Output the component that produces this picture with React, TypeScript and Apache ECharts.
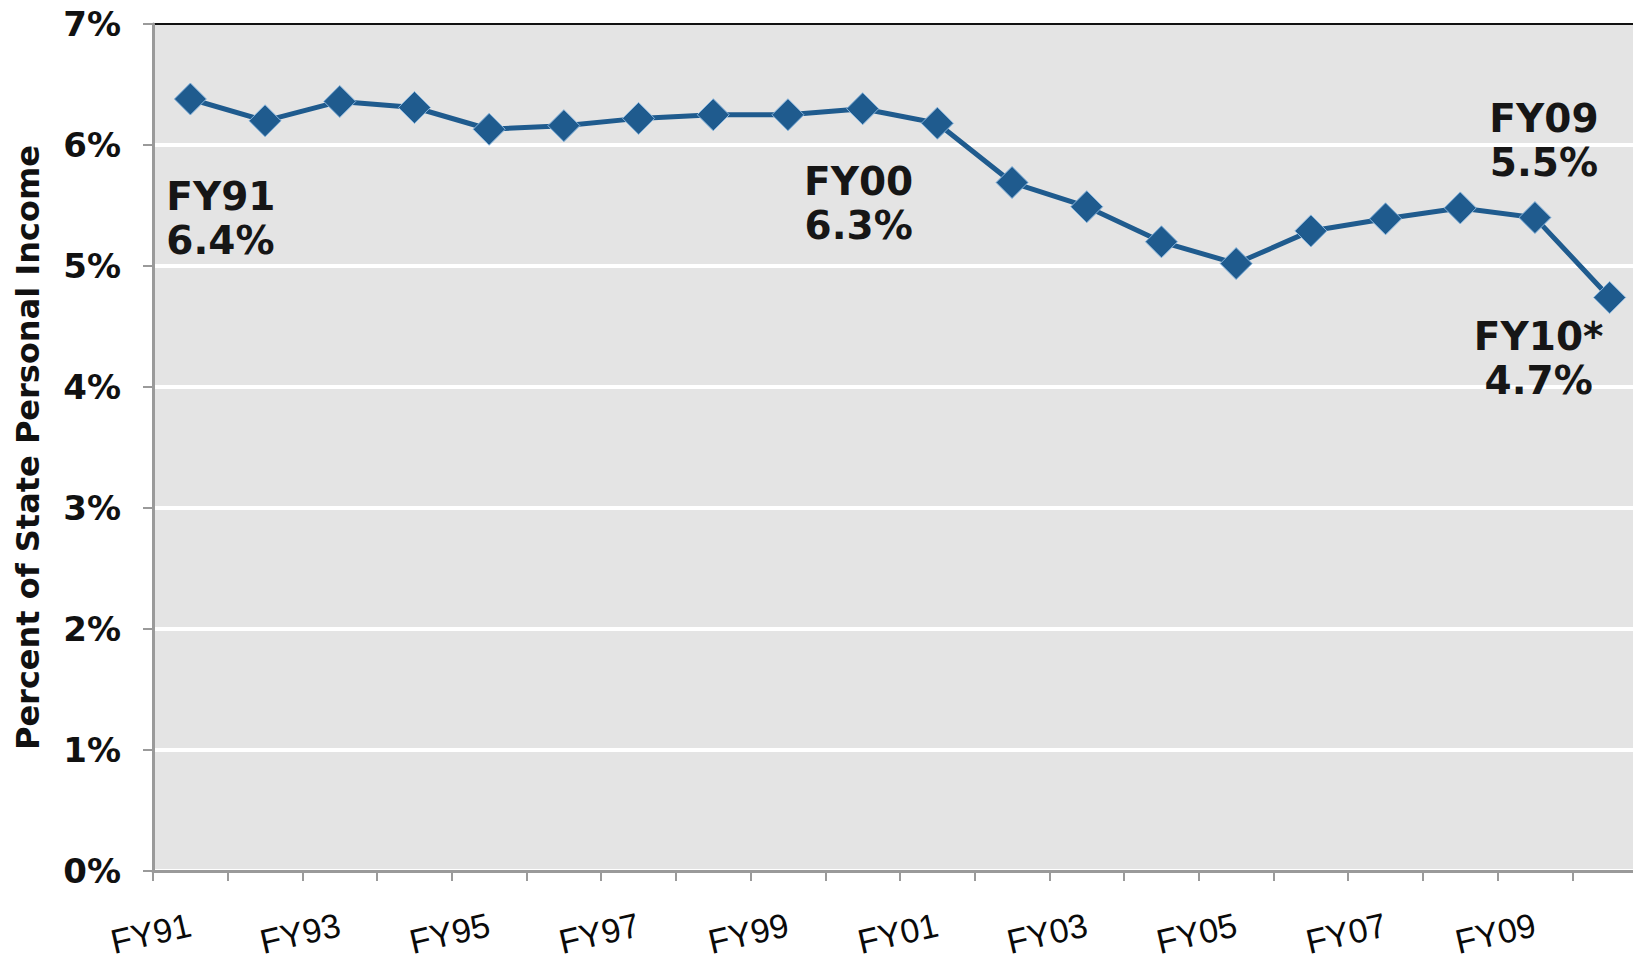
import React, { useEffect, useRef } from "react";
import * as echarts from "echarts";

const categories = [
  "FY91", "FY92", "FY93", "FY94", "FY95", "FY96", "FY97", "FY98", "FY99", "FY00",
  "FY01", "FY02", "FY03", "FY04", "FY05", "FY06", "FY07", "FY08", "FY09", "FY10",
];

const shares = [
  6.38, 6.2, 6.36, 6.31, 6.13, 6.16, 6.22, 6.25, 6.25, 6.3,
  6.18, 5.69, 5.49, 5.2, 5.02, 5.29, 5.39, 5.48, 5.4, 4.74,
];

const yMin = 0;
const yMax = 7;
const yStep = 1;

const annotationIndex = [0, 9, 18, 19];
const annotationYear = ["FY91", "FY00", "FY09", "FY10*"];
const annotationValue = ["6.4%", "6.3%", "5.5%", "4.7%"];

// placement styles for annotation labels (relative to their point)
const annotationOffset: [number, number][] = [[-24, 119], [-4, 95], [9, -77], [-71, 61]];
const annotationAlign = ["left", "center", "center", "center"];

const LINE_COLOR = "#1f5b8e";

export default function App() {
  const ref = useRef<HTMLDivElement>(null);

  useEffect(() => {
    if (!ref.current) return;
    const chart = echarts.init(ref.current, undefined, { renderer: "svg" });

    const seriesData = shares.map((v, i) => {
      const k = annotationIndex.indexOf(i);
      if (k < 0) return v;
      return {
        value: v,
        label: {
          show: true,
          position: "inside",
          offset: annotationOffset[k],
          align: annotationAlign[k],
          verticalAlign: "middle",
          formatter: annotationYear[k] + "\n" + annotationValue[k],
          fontFamily: "DejaVu Sans",
          fontWeight: "bold",
          fontSize: 39,
          lineHeight: 44,
          color: "#161616",
        },
      };
    });

    const splitColors = [];
    for (let t = yMin; t <= yMax; t += yStep) splitColors.push(t === yMax ? "rgba(0,0,0,0)" : "#ffffff");

    chart.setOption({
      animation: false,
      backgroundColor: "#ffffff",
      grid: {
        left: 153,
        right: 13,
        top: 24,
        bottom: 92,
        containLabel: false,
        outerBoundsMode: "none",
        show: true,
        backgroundColor: "#e4e4e4",
        borderColor: "#111111",
        borderWidth: 2,
      },
      xAxis: {
        type: "category",
        data: categories,
        boundaryGap: true,
        axisLine: { show: true, lineStyle: { color: "#9a9a9a", width: 3 } },
        axisTick: { show: true, interval: 0, length: 10, lineStyle: { color: "#9a9a9a", width: 2 } },
        axisLabel: {
          interval: 1,
          rotate: 13,
          margin: 53,
          fontSize: 34,
          fontFamily: "Liberation Sans Narrow, Liberation Sans",
          color: "#0a0a0a",
        },
        splitLine: { show: false },
      },
      yAxis: {
        type: "value",
        min: yMin,
        max: yMax,
        interval: yStep,
        name: "Percent of State Personal Income",
        nameLocation: "middle",
        nameGap: 109,
        nameRotate: 90,
        nameTextStyle: {
          fontFamily: "DejaVu Sans",
          fontWeight: "bold",
          fontSize: 32,
          color: "#111111",
        },
        axisLine: { show: true, lineStyle: { color: "#9a9a9a", width: 3 } },
        axisTick: { show: true, length: 10, lineStyle: { color: "#9a9a9a", width: 2 } },
        axisLabel: {
          formatter: "{value}%",
          margin: 32,
          fontFamily: "DejaVu Sans",
          fontWeight: "bold",
          fontSize: 34,
          color: "#111111",
        },
        splitLine: { show: true, lineStyle: { color: splitColors, width: 4 } },
      },
      series: [
        {
          type: "line",
          data: seriesData,
          clip: false,
          symbol: "diamond",
          symbolSize: 32,
          lineStyle: { color: LINE_COLOR, width: 5 },
          itemStyle: { color: LINE_COLOR, borderColor: "#86b4dd", borderWidth: 1 },
          label: { show: false },
          emphasis: { disabled: true },
          z: 5,
        },
      ],
    });

    return () => chart.dispose();
  }, []);

  return (
    <div
      style={{
        position: "absolute",
        left: 0,
        top: 0,
        width: 1633,
        height: 963,
        overflow: "hidden",
        background: "#ffffff",
      }}
    >
      <div ref={ref} style={{ width: 1660, height: 963 }} />
    </div>
  );
}
